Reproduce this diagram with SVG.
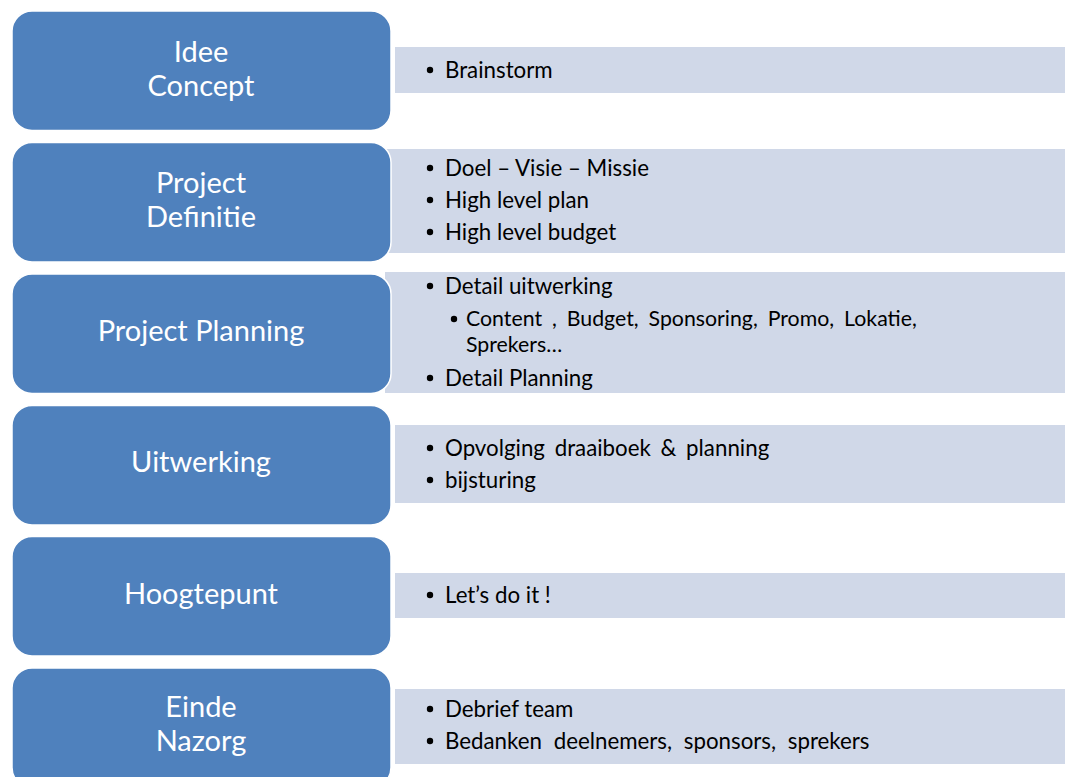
<svg xmlns="http://www.w3.org/2000/svg" width="1065" height="777" viewBox="0 0 1065 777">
  <style>
    .bar { fill: #D0D8E8; }
    .step { fill: #4F81BD; stroke: #FFFFFF; stroke-width: 1.5; }
    .label { font-family: Lato, "Liberation Sans", sans-serif; font-size: 29px; fill: #FFFFFF; text-anchor: middle; }
    .item { font-family: Lato, "Liberation Sans", sans-serif; font-size: 22.3px; fill: #000000; }
    .sub { font-size: 21.3px; }
  </style>
  <defs>
    <circle id="dot" r="3.2" fill="#000000"/>
  </defs>

  <!-- detail bars (drawn first so the step boxes sit on top) -->
  <g id="details">
    <rect class="bar" x="395" y="47" width="670" height="46"/>
    <rect class="bar" x="385" y="149" width="680" height="104"/>
    <rect class="bar" x="385" y="272" width="680" height="121"/>
    <rect class="bar" x="395" y="425" width="670" height="78"/>
    <rect class="bar" x="395" y="573" width="670" height="45"/>
    <rect class="bar" x="395" y="689" width="670" height="75"/>
  </g>

  <g id="step-idee">
    <rect class="step" x="12" y="11" width="379" height="119.5" rx="20"/>
    <text class="label" x="201" y="62">Idee</text>
    <text class="label" x="201" y="96">Concept</text>
    <g class="item">
      <use href="#dot" x="430" y="70"/>
      <text x="445" y="78">Brainstorm</text>
    </g>
  </g>

  <g id="step-definitie">
    <rect class="step" x="12" y="142.5" width="379" height="119.5" rx="20"/>
    <text class="label" x="201" y="193">Project</text>
    <text class="label" x="201" y="227">Definitie</text>
    <g class="item">
      <use href="#dot" x="430" y="168"/>
      <text x="445" y="176">Doel – Visie – Missie</text>
      <use href="#dot" x="430" y="200"/>
      <text x="445" y="208">High level plan</text>
      <use href="#dot" x="430" y="232"/>
      <text x="445" y="240">High level budget</text>
    </g>
  </g>

  <g id="step-planning">
    <rect class="step" x="12" y="274" width="379" height="119.5" rx="20"/>
    <text class="label" x="201" y="341">Project Planning</text>
    <g class="item">
      <use href="#dot" x="430" y="286"/>
      <text x="445" y="294">Detail uitwerking</text>
      <use href="#dot" x="454" y="319"/>
      <!-- sub item wraps onto a second line -->
      <text class="sub" x="466" y="326" word-spacing="4.5">Content , Budget, Sponsoring, Promo, Lokatie,</text>
      <text class="sub" x="466" y="352">Sprekers…</text>
      <use href="#dot" x="430" y="378"/>
      <text x="445" y="386">Detail Planning</text>
    </g>
  </g>

  <g id="step-uitwerking">
    <rect class="step" x="12" y="405.5" width="379" height="119.5" rx="20"/>
    <text class="label" x="201" y="472">Uitwerking</text>
    <g class="item">
      <use href="#dot" x="430" y="448"/>
      <text x="445" y="456" word-spacing="4">Opvolging draaiboek &amp; planning</text>
      <use href="#dot" x="430" y="480"/>
      <text x="445" y="488">bijsturing</text>
    </g>
  </g>

  <g id="step-hoogtepunt">
    <rect class="step" x="12" y="536.5" width="379" height="119.5" rx="20"/>
    <text class="label" x="201" y="604">Hoogtepunt</text>
    <g class="item">
      <use href="#dot" x="430" y="595"/>
      <text x="445" y="603">Let’s do it !</text>
    </g>
  </g>

  <g id="step-einde">
    <rect class="step" x="12" y="668" width="379" height="119.5" rx="20"/>
    <text class="label" x="201" y="717">Einde</text>
    <text class="label" x="201" y="751">Nazorg</text>
    <g class="item">
      <use href="#dot" x="430" y="709"/>
      <text x="445" y="717">Debrief team</text>
      <use href="#dot" x="430" y="741"/>
      <text x="445" y="749" word-spacing="6">Bedanken deelnemers, sponsors, sprekers</text>
    </g>
  </g>

  <!-- no connectors in this layout -->
  <g id="connectors"/>
</svg>
